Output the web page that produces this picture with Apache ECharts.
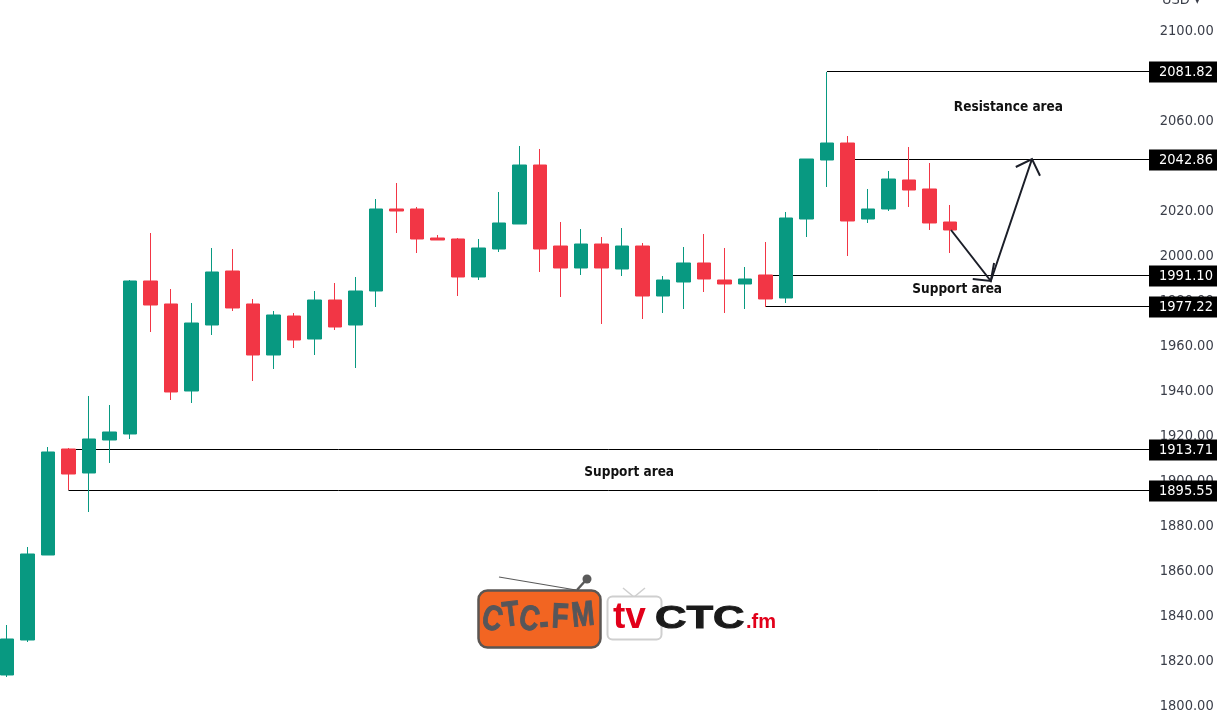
<!DOCTYPE html>
<html>
<head>
<meta charset="utf-8">
<title>CTC chart</title>
<style>
  html, body { margin: 0; padding: 0; background: #fff; overflow: hidden; }
  #main { width: 1217px; height: 721px; }
</style>
<script src="https://cdn.jsdelivr.net/npm/echarts@6/dist/echarts.min.js"></script>
</head>
<body>
<div id="main"></div>
<script>
// prices, one entry per candle
const opens = [1813.78, 1829.33, 1867.11, 1914.22, 1903.56, 1918.22, 1920.89, 1988.89, 1978.67, 1940, 1969.33, 1993.33, 1978.67, 1956, 1973.33, 1963.11, 1980.44, 1969.33, 1984.44, 2020.89, 2020.89, 2008, 2007.56, 1990.67, 2003.11, 2014.22, 2040.44, 2004.44, 1994.67, 2005.33, 1994.22, 2004.44, 1982.22, 1988.44, 1996.89, 1989.33, 1987.56, 1991.56, 1981.33, 2016.44, 2042.67, 2050.22, 2016.44, 2020.89, 2033.78, 2029.78, 2015.11]
const closes = [1829.78, 1867.56, 1912.89, 1903.11, 1918.67, 1921.78, 1988.89, 1978.22, 1939.56, 1970.22, 1992.89, 1976.89, 1956, 1973.78, 1962.67, 1980.44, 1968.44, 1984.44, 2020.89, 2020, 2007.56, 2007.11, 1990.67, 2003.56, 2014.67, 2040.44, 2003.11, 1994.67, 2005.33, 1994.67, 2004.44, 1982.22, 1989.33, 1996.89, 1989.78, 1987.56, 1989.78, 1980.89, 2016.89, 2043.11, 2050.22, 2015.56, 2020.89, 2034.22, 2029.33, 2014.67, 2011.56]
const lows = [1812.89, 1828.44, 1867.11, 1896, 1886.22, 1908, 1918.67, 1966.22, 1936, 1934.67, 1964.89, 1975.56, 1944.44, 1949.78, 1959.11, 1956, 1967.11, 1950.22, 1977.33, 2010.22, 2001.33, 2007.11, 1982.22, 1989.33, 2001.78, 2014.22, 1992.89, 1981.78, 1991.56, 1969.78, 1991.11, 1972, 1974.67, 1976.44, 1984, 1974.67, 1976.44, 1977.33, 1979.11, 2008.44, 2030.67, 2000, 2014.67, 2020, 2021.78, 2011.56, 2001.33]
const highs = [1836, 1870.67, 1915.11, 1914.67, 1937.78, 1933.78, 1989.33, 2010.22, 1985.33, 1979.11, 2003.56, 2003.11, 1980.89, 1975.56, 1974.67, 1984.44, 1988, 1990.67, 2025.33, 2032.44, 2021.78, 2009.33, 2008, 2007.56, 2028.44, 2048.89, 2047.56, 2015.11, 2012, 2008.44, 2012.44, 2005.78, 1991.11, 2004, 2009.78, 2003.56, 1995.11, 2006.22, 2019.56, 2043.11, 2081.82, 2053.33, 2029.78, 2037.78, 2048.44, 2041.33, 2022.67]

// horizontal levels and the candle they start from
const levelPrices = [2081.82, 2042.86, 1991.10, 1977.22, 1913.71, 1895.55]
const levelStarts = [40, 41, 37, 37, 3, 3]

// notes: candle position, price, text
const noteSlots = [48.85, 46.35, 30.35]
const notePrices = [2065.8, 1985.0, 1904.0]
const noteTexts = ['Resistance area', 'Support area', 'Support area']

// forecast arrow and its two heads
const arrowSlots = [46.05, 47.99, 50.0]
const arrowPrices = [2011.56, 1988.89, 2043.11]
const headLowSlots = [47.11, 47.99, 48.15]
const headLowPrices = [1989.78, 1988.89, 1996.89]
const headTopSlots = [49.21, 50.0, 50.39]
const headTopPrices = [2039.56, 2043.11, 2035.69]

const emptySlots = 10
const categories = []
for (let i = 0; i < opens.length + emptySlots; i++) categories.push(String(i))

const candles = opens.map((o, i) => [o, closes[i], lows[i], highs[i]])
const levels = levelPrices.map((p, i) => [levelStarts[i], p])
const notes = noteTexts.map((t, i) => [Math.floor(noteSlots[i]), notePrices[i], noteSlots[i] % 1, t])
const arrows = [
  [arrowSlots, arrowPrices],
  [headLowSlots, headLowPrices],
  [headTopSlots, headTopPrices]
]

const tagLeft = 1149
const tagRight = 1217
const chartFont = '"DejaVu Sans Condensed", "DejaVu Sans", sans-serif'

// the ordinal scale rounds its input, so add the fraction of a slot by hand
function slotPoint(api, slot, price) {
  const whole = Math.floor(slot)
  const p = api.coord([whole, price])
  return [p[0] + (slot - whole) * api.size([1, 0])[0], p[1]]
}

function renderLevel(params, api) {
  const p = api.coord([api.value(0), api.value(1)])
  const y = Math.round(p[1]) - 0.5
  return {
    type: 'line',
    shape: { x1: p[0], y1: y, x2: tagLeft, y2: y },
    style: { stroke: '#000', lineWidth: 1 }
  }
}

function renderTag(params, api) {
  const p = api.coord([api.value(0), api.value(1)])
  const y = Math.round(p[1]) - 0.5
  return {
    type: 'group',
    children: [
      {
        type: 'rect',
        shape: { x: tagLeft, y: y - 10, width: tagRight - tagLeft, height: 21 },
        style: { fill: '#000' }
      },
      {
        type: 'text',
        x: 1159,
        y: y + 1,
        style: {
          text: api.value(1).toFixed(2),
          fill: '#fff',
          font: '14.5px ' + chartFont,
          verticalAlign: 'middle'
        }
      }
    ]
  }
}

function renderNote(params, api) {
  const p = slotPoint(api, api.value(0) + api.value(2), api.value(1))
  return {
    type: 'text',
    x: p[0],
    y: p[1],
    style: {
      text: noteTexts[params.dataIndex],
      fill: '#111',
      font: 'bold 13.5px ' + chartFont,
      align: 'center',
      verticalAlign: 'middle'
    }
  }
}

function renderArrow(params, api) {
  const [slots, prices] = arrows[params.dataIndex]
  return {
    type: 'polyline',
    shape: { points: slots.map((s, i) => slotPoint(api, s, prices[i])) },
    style: { stroke: '#1b1e28', lineWidth: 2, fill: 'none' }
  }
}

function logoLetter(text, x, y, rotation) {
  return {
    type: 'text',
    x: x,
    y: y,
    rotation: rotation,
    scaleX: 0.78,
    style: {
      text: text,
      fill: '#55565a',
      stroke: '#55565a',
      lineWidth: 1,
      font: 'bold 35px "Liberation Sans", sans-serif',
      align: 'center',
      verticalAlign: 'middle'
    }
  }
}

const logo = [
  // CTC-FM radio
  { type: 'line', shape: { x1: 499, y1: 577, x2: 576, y2: 590 }, style: { stroke: '#5a5a5a', lineWidth: 1.2 } },
  { type: 'line', shape: { x1: 577, y1: 590, x2: 586, y2: 580 }, style: { stroke: '#5a5a5a', lineWidth: 2.5 } },
  { type: 'circle', shape: { cx: 587, cy: 579, r: 4.5 }, style: { fill: '#5a5a5a' } },
  { type: 'rect', shape: { x: 478.5, y: 590.5, width: 122, height: 57, r: 9 }, style: { fill: '#f26522', stroke: '#5b5653', lineWidth: 2.5 } },
  logoLetter('C', 492, 620, -0.25),
  logoLetter('T', 511, 616, 0.12),
  logoLetter('C', 529, 620, -0.2),
  logoLetter('-', 544, 624, 0.1),
  logoLetter('F', 560, 618, -0.05),
  logoLetter('M', 583, 616, 0.1),
  // tvCTC.fm
  { type: 'polyline', shape: { points: [[623, 588], [634, 597], [645, 588]] }, style: { stroke: '#cfcfcf', lineWidth: 1.5, fill: 'none' } },
  { type: 'rect', shape: { x: 607.5, y: 596.5, width: 54, height: 43, r: 5 }, style: { fill: '#fff', stroke: '#cfcfcf', lineWidth: 2 } },
  { type: 'text', x: 613, y: 618, style: { text: 'tv', fill: '#e2001a', font: 'bold 37px "Liberation Sans", sans-serif', verticalAlign: 'middle' } },
  { type: 'text', x: 655, y: 619, scaleX: 1.36, style: { text: 'CTC', fill: '#1a1a1a', stroke: '#1a1a1a', lineWidth: 1, font: 'bold 32px "Liberation Sans", sans-serif', verticalAlign: 'middle' } },
  { type: 'text', x: 746, y: 622, style: { text: '.fm', fill: '#e2001a', font: 'bold 20px "Liberation Sans", sans-serif', verticalAlign: 'middle' } },
  // currency label cut off by the top edge
  { type: 'text', x: 1162, y: 0, style: { text: 'USD ▾', fill: '#3a3e49', font: '14.5px ' + chartFont, verticalAlign: 'middle' } }
]

const chart = echarts.init(document.getElementById('main'), null, { renderer: 'canvas' })
chart.setOption({
  animation: false,
  backgroundColor: '#fff',
  grid: {
    left: -3.25,
    top: 31,
    width: 20.5 * categories.length,
    height: 675,
    outerBoundsMode: 'none'
  },
  xAxis: {
    type: 'category',
    data: categories,
    boundaryGap: true,
    show: false
  },
  yAxis: {
    type: 'value',
    position: 'right',
    min: 1800,
    max: 2100,
    interval: 20,
    offset: -5.5,
    axisLine: { show: false },
    axisTick: { show: false },
    splitLine: { show: false },
    axisLabel: {
      margin: 0,
      color: '#3a3e49',
      fontFamily: chartFont,
      fontSize: 14.5,
      formatter: v => v.toFixed(2)
    }
  },
  graphic: logo,
  series: [
    {
      type: 'custom',
      z: 1,
      clip: false,
      data: levels,
      encode: { x: 0, y: 1 },
      renderItem: renderLevel
    },
    {
      type: 'candlestick',
      z: 2,
      barWidth: 14,
      data: candles,
      itemStyle: {
        color: '#089981',
        color0: '#f23645',
        borderColor: '#089981',
        borderColor0: '#f23645',
        borderWidth: 1
      }
    },
    {
      type: 'custom',
      z: 3,
      clip: false,
      data: arrows.map((a, i) => [i, a[1][0]]),
      encode: { x: 0, y: 1 },
      renderItem: renderArrow
    },
    {
      type: 'custom',
      z: 4,
      clip: false,
      data: notes,
      encode: { x: 0, y: 1 },
      renderItem: renderNote
    },
    {
      type: 'custom',
      z: 5,
      clip: false,
      data: levels,
      encode: { x: 0, y: 1 },
      renderItem: renderTag
    }
  ]
})
</script>
</body>
</html>
